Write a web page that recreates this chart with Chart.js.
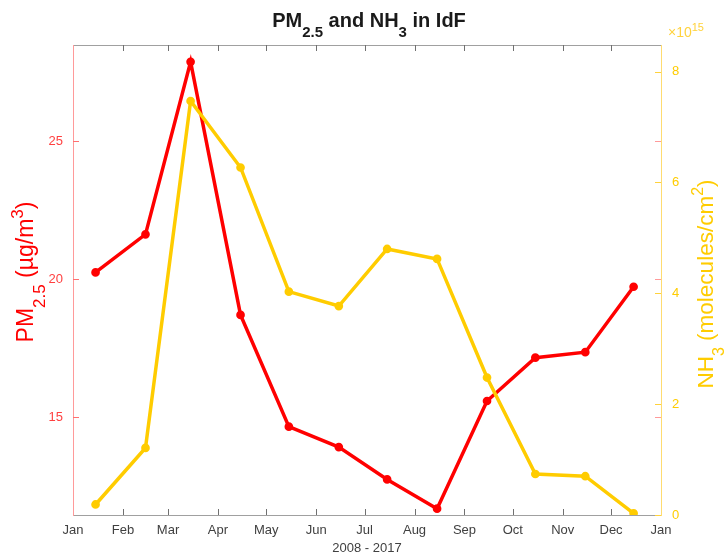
<!DOCTYPE html>
<html>
<head>
<meta charset="utf-8">
<script src="https://cdn.jsdelivr.net/npm/chart.js@4.4.1/dist/chart.umd.min.js"></script>
<style>
html, body { margin: 0; padding: 0; background: #fff; }
#myChart { display: block; }
</style>
</head>
<body>
<canvas id="myChart" width="724" height="556"></canvas>
<script>
// monthly means over 2008 - 2017
const monthNames = ['Jan', 'Feb', 'Mar', 'Apr', 'May', 'Jun', 'Jul', 'Aug', 'Sep', 'Oct', 'Nov', 'Dec', 'Jan']
const pm25 = [20.25, 21.63, 27.88, 18.71, 14.66, 13.92, 12.75, 11.69, 15.59, 17.16, 17.36, 19.73]
const nh3 = [0.19e15, 1.21e15, 7.47e15, 6.27e15, 4.03e15, 3.77e15, 4.80e15, 4.62e15, 2.48e15, 0.74e15, 0.70e15, 0.03e15]
const pmTicks = [15, 20, 25]
const nh3Ticks = [0, 2e15, 4e15, 6e15, 8e15]

const family = "'Liberation Sans', Arial, Helvetica, sans-serif"

// day of year, used as x value
const dayOfYear = (m, d) => (Date.UTC(2009, m, d) - Date.UTC(2009, 0, 1)) / 86400000
const monthStarts = monthNames.map((n, i) => dayOfYear(i, 1))
const midMonth = pm25.map((v, i) => dayOfYear(i, 15))

const pmPoints = midMonth.map((x, i) => ({ x: x, y: pm25[i] }))
const nh3Points = midMonth.map((x, i) => ({ x: x, y: nh3[i] }))

// text with sub/superscripts, centred (or left aligned) on x
function drawRich(ctx, parts, x, y, size, weight, color, angle, align, small) {
    ctx.save()
    ctx.translate(x, y)
    ctx.rotate(angle || 0)
    ctx.fillStyle = color
    ctx.textBaseline = 'alphabetic'
    ctx.textAlign = 'left'
    const ratio = small || 0.72
    const fontFor = p => weight + ' ' + ((p.sub || p.sup) ? Math.round(size * ratio) : size) + 'px ' + family
    let w = 0
    parts.forEach(p => { ctx.font = fontFor(p); w += ctx.measureText(p.t).width })
    let cx = align === 'left' ? 0 : -w / 2
    parts.forEach(p => {
        ctx.font = fontFor(p)
        const dy = p.sub ? size * 0.5 : p.sup ? -size * 0.45 : 0
        ctx.fillText(p.t, cx, dy)
        cx += ctx.measureText(p.t).width
    })
    ctx.restore()
}

// axes box with inward ticks, like matlab
const framePlugin = {
    id: 'frame',
    beforeDatasetsDraw(chart) {
        const ctx = chart.ctx
        const { left, right, top, bottom } = chart.chartArea
        const sx = chart.scales.x, yl = chart.scales.yL, yr = chart.scales.yR
        const line = (x1, y1, x2, y2, color) => {
            ctx.strokeStyle = color
            ctx.beginPath()
            ctx.moveTo(x1, y1)
            ctx.lineTo(x2, y2)
            ctx.stroke()
        }
        ctx.save()
        ctx.lineWidth = 1
        const gray = '#a0a0a0'
        line(left, top + 0.5, right, top + 0.5, gray)
        line(left, bottom + 0.5, right, bottom + 0.5, gray)
        monthStarts.slice(1, -1).forEach(v => {
            const x = Math.round(sx.getPixelForValue(v)) + 0.5
            line(x, bottom, x, bottom - 6, '#707070')
            line(x, top, x, top + 6, '#707070')
        })
        line(left + 0.5, top, left + 0.5, bottom + 1, '#ff9a9a')
        line(right + 0.5, top, right + 0.5, bottom + 1, '#ffdc70')
        pmTicks.forEach(v => {
            const y = Math.round(yl.getPixelForValue(v)) + 0.5
            line(left, y, left + 6, y, '#ff7070')
            line(right - 6, y, right, y, '#ff9a9a')
        })
        nh3Ticks.forEach(v => {
            const y = Math.round(yr.getPixelForValue(v)) + 0.5
            line(right - 6, y, right, y, '#ffd23c')
        })
        ctx.restore()
    },
    afterDraw(chart) {
        const ctx = chart.ctx
        drawRich(ctx, [{ t: 'PM' }, { t: '2.5', sub: true }, { t: ' and NH' }, { t: '3', sub: true }, { t: ' in IdF' }],
            369, 27, 20, 'bold', '#1a1a1a', 0, 'center', 0.75)
        drawRich(ctx, [{ t: 'PM' }, { t: '2.5', sub: true }, { t: ' (µg/m' }, { t: '3', sup: true }, { t: ')' }],
            33, 272, 23, 'normal', '#ff0000', -Math.PI / 2)
        drawRich(ctx, [{ t: 'NH' }, { t: '3', sub: true }, { t: ' (molecules/cm' }, { t: '2', sup: true }, { t: ')' }],
            713, 284, 22.5, 'normal', '#ffcc00', -Math.PI / 2)
        drawRich(ctx, [{ t: '×10' }, { t: '15', sup: true }], 668, 37, 14, 'normal', '#ffd23c', 0, 'left', 0.78)
    }
}

const tickFont = { family: family, size: 13 }

const config = {
    type: 'line',
    data: {
        datasets: [{
            label: 'NH3',
            data: nh3Points,
            yAxisID: 'yR',
            borderColor: '#ffcc00',
            backgroundColor: '#ffcc00',
            borderWidth: 3.5,
            pointRadius: 2.6,
            pointHoverRadius: 2.6,
            tension: 0,
            order: 0
        }, {
            label: 'PM2.5',
            data: pmPoints,
            yAxisID: 'yL',
            borderColor: '#ff0000',
            backgroundColor: '#ff0000',
            borderWidth: 3.5,
            pointRadius: 2.6,
            pointHoverRadius: 2.6,
            tension: 0,
            order: 1
        }]
    },
    options: {
        responsive: false,
        animation: false,
        layout: { padding: { top: 45, left: 0, right: 0, bottom: 0 } },
        plugins: {
            legend: { display: false },
            tooltip: { enabled: false },
            title: { display: false }
        },
        scales: {
            x: {
                type: 'linear',
                min: 0,
                max: 365,
                afterBuildTicks: s => { s.ticks = monthStarts.map(v => ({ value: v })) },
                ticks: {
                    autoSkip: false,
                    maxRotation: 0,
                    padding: 8,
                    color: '#404040',
                    font: tickFont,
                    callback: (v, i) => monthNames[i]
                },
                grid: { display: false, drawTicks: false },
                border: { display: false },
                title: { display: true, text: '2008 - 2017', color: '#404040', font: tickFont, padding: { top: 0, bottom: 0 } },
                afterFit: s => { s.height = 41 }
            },
            yL: {
                type: 'linear',
                position: 'left',
                min: 11.46,
                max: 28.49,
                afterBuildTicks: s => { s.ticks = pmTicks.map(v => ({ value: v })) },
                ticks: { color: '#ff4040', padding: 10, font: tickFont },
                grid: { display: false, drawTicks: false },
                border: { display: false },
                afterFit: s => { s.width = 73 }
            },
            yR: {
                type: 'linear',
                position: 'right',
                min: 0,
                max: 8.48e15,
                afterBuildTicks: s => { s.ticks = nh3Ticks.map(v => ({ value: v })) },
                ticks: { color: '#ffcc00', padding: 11, font: tickFont, callback: v => v / 1e15 },
                grid: { display: false, drawTicks: false },
                border: { display: false },
                afterFit: s => { s.width = 63 }
            }
        }
    },
    plugins: [framePlugin]
}

document.addEventListener('DOMContentLoaded', () => {
    new Chart(document.querySelector('#myChart'), config)
})
</script>
</body>
</html>
